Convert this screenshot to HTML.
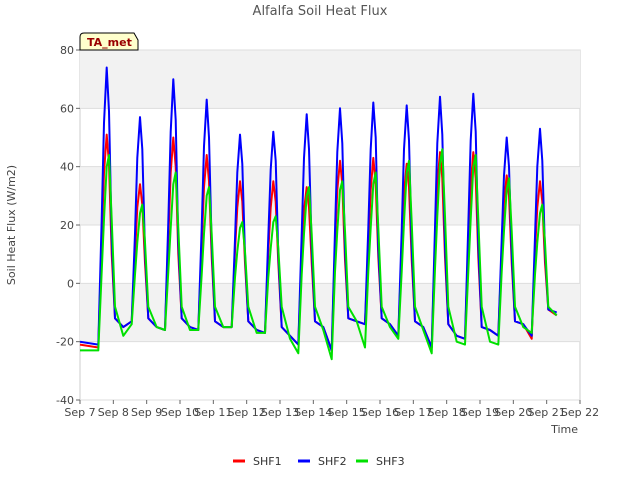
<!DOCTYPE html>
<html><head><meta charset="utf-8"><style>
body{margin:0;background:#fff;font-family:"Liberation Sans","DejaVu Sans",sans-serif}
</style></head><body>
<svg id="chart" width="640" height="480" xmlns="http://www.w3.org/2000/svg" font-family="DejaVu Sans, Liberation Sans, sans-serif">
<text x="320" y="15" text-anchor="middle" font-size="13" fill="#555">Alfalfa Soil Heat Flux</text>
<g id="plot"></g>
<text x="15" y="225" transform="rotate(-90 15 225)" text-anchor="middle" font-size="11" fill="#444">Soil Heat Flux (W/m2)</text>
<text x="578" y="433" text-anchor="end" font-size="11" fill="#444">Time</text>
<g>
<path d="M80,50 L80,37 Q80,33 84,33 L134,33 L138,40 L138,50 Z" fill="#ffffcc" stroke="#000" stroke-width="1"/>
<text x="87" y="46" font-size="11" font-weight="bold" fill="#990000">TA_met</text>
</g>
<g id="legend"></g>
</svg>
<script>
const ticksY=[-40,-20,0,20,40,60,80];
const tickLabelsX=["Sep 7","Sep 8","Sep 9","Sep 10","Sep 11","Sep 12","Sep 13","Sep 14","Sep 15","Sep 16","Sep 17","Sep 18","Sep 19","Sep 20","Sep 21","Sep 22"];
const times=[
7.0,7.55,7.65,7.72,7.8,7.87,7.95,8.05,
8.3,8.55,8.65,8.72,8.8,8.87,8.95,9.05,
9.3,9.55,9.65,9.72,9.8,9.87,9.95,10.05,
10.3,10.55,10.65,10.72,10.8,10.87,10.95,11.05,
11.3,11.55,11.65,11.72,11.8,11.87,11.95,12.05,
12.3,12.55,12.65,12.72,12.8,12.87,12.95,13.05,
13.3,13.55,13.65,13.72,13.8,13.87,13.95,14.05,
14.3,14.55,14.65,14.72,14.8,14.87,14.95,15.05,
15.3,15.55,15.65,15.72,15.8,15.87,15.95,16.05,
16.3,16.55,16.65,16.72,16.8,16.87,16.95,17.05,
17.3,17.55,17.65,17.72,17.8,17.87,17.95,18.05,
18.3,18.55,18.65,18.72,18.8,18.87,18.95,19.05,
19.3,19.55,19.65,19.72,19.8,19.87,19.95,20.05,
20.3,20.55,20.65,20.72,20.8,20.87,20.95,21.05,
21.3];
const shf1=[
-21,-22,15,38,51,41,10,-12,
-15,-13,10,26,34,27,7,-12,
-15,-16,15,38,50,40,10,-12,
-15,-16,13,33,44,35,9,-13,
-15,-15,11,26,35,28,7,-13,
-16,-17,11,26,35,28,7,-15,
-18,-21,10,25,33,26,7,-13,
-15,-23,13,32,42,34,8,-12,
-13,-14,13,32,43,34,9,-12,
-14,-18,12,31,41,33,8,-13,
-15,-22,14,34,45,36,9,-14,
-18,-19,14,34,45,36,9,-15,
-16,-18,11,28,37,30,7,-13,
-14,-19,11,26,35,28,7,-9,
-11];
const shf2=[
-20,-21,22,55,74,59,15,-12,
-15,-13,17,43,57,46,11,-12,
-15,-16,21,52,70,56,14,-12,
-15,-16,19,47,63,50,13,-13,
-15,-15,15,38,51,41,10,-13,
-16,-17,16,39,52,42,10,-15,
-18,-21,17,43,58,46,12,-13,
-15,-23,18,45,60,48,12,-12,
-13,-14,19,46,62,50,12,-12,
-14,-18,18,46,61,49,12,-13,
-15,-22,19,48,64,51,13,-14,
-18,-19,20,49,65,52,13,-15,
-16,-18,15,37,50,40,10,-13,
-14,-18,16,40,53,42,11,-9,
-10];
const shf3=[
-23,-23,4,22,40,44,22,-8,
-18,-14,3,14,24,27,14,-8,
-15,-16,4,19,34,38,19,-8,
-16,-16,3,17,30,33,17,-8,
-15,-15,2,11,19,21,11,-8,
-17,-17,2,12,21,23,12,-8,
-19,-24,3,17,30,33,17,-8,
-16,-26,4,18,32,35,18,-8,
-13,-22,4,19,34,38,19,-8,
-15,-19,4,21,38,42,21,-8,
-16,-24,5,23,41,46,23,-8,
-20,-21,4,22,40,44,22,-8,
-20,-21,4,18,32,36,18,-8,
-15,-17,3,14,24,27,14,-8,
-11];
const seriesNames=["SHF1","SHF2","SHF3"];
const seriesColors=["#ff0000","#0000ff","#00e000"];
const X0=80,X1=580,Y0=50,Y1=400;
const xs=d=>X0+(d-7)*(X1-X0)/15;
const ys=v=>Y1-(v+40)*(Y1-Y0)/120;
const NS="http://www.w3.org/2000/svg";
const plot=document.getElementById('plot');
function mk(tag,attrs,parent){const e=document.createElementNS(NS,tag);for(const k in attrs)e.setAttribute(k,attrs[k]);parent.appendChild(e);return e;}
const bg=mk('rect',{x:X0,y:Y0,width:X1-X0,height:Y1-Y0,fill:'#fff',stroke:'#ccc'},plot);


for(let i=0;i<ticksY.length-1;i++){
  if(i%2===1){const b=mk('rect',{x:X0,y:ys(ticksY[i+1]),width:X1-X0,height:ys(ticksY[i])-ys(ticksY[i+1]),fill:'#f2f2f2'},plot);
  
  }
}
ticksY.forEach(t=>{
  const g=mk('line',{x1:X0,x2:X1,y1:ys(t),y2:ys(t),stroke:'#ddd','stroke-width':1},plot);
  
  
  const tk=mk('line',{x1:X0-4,x2:X0,y1:ys(t),y2:ys(t),stroke:'#666'},plot);
  
  
  const l=mk('text',{x:X0-6,y:ys(t)+4,'text-anchor':'end','font-size':11,fill:'#444'},plot);
  l.textContent=t;
  
  
});
tickLabelsX.forEach((s,i)=>{
  const x=xs(7+i);
  const tk=mk('line',{x1:x,x2:x,y1:Y1,y2:Y1+4,stroke:'#666'},plot);
  
  
  const l=mk('text',{x:x,y:Y1+16,'text-anchor':'middle','font-size':11,fill:'#444'},plot);
  l.textContent=s;
  
  
});
[shf1,shf2,shf3].forEach((vals,si)=>{
  const d=vals.map((v,i)=>(i?'L':'M')+xs(times[i]).toFixed(1)+','+ys(v).toFixed(1)).join(' ');
  const p=mk('path',{d:d,fill:'none',stroke:seriesColors[si],'stroke-width':2,'stroke-linejoin':'round'},plot);
  
  
});
const lg=document.getElementById('legend');
const lx=[233,298,356];
seriesNames.forEach((n,i)=>{
  const ln=mk('line',{x1:lx[i],x2:lx[i]+12,y1:461,y2:461,stroke:seriesColors[i],'stroke-width':3},lg);
  
  
  const t=mk('text',{x:lx[i]+20,y:465,'font-size':11,fill:'#333'},lg);
  t.textContent=n;
  
  
});
</script>
</body></html>
